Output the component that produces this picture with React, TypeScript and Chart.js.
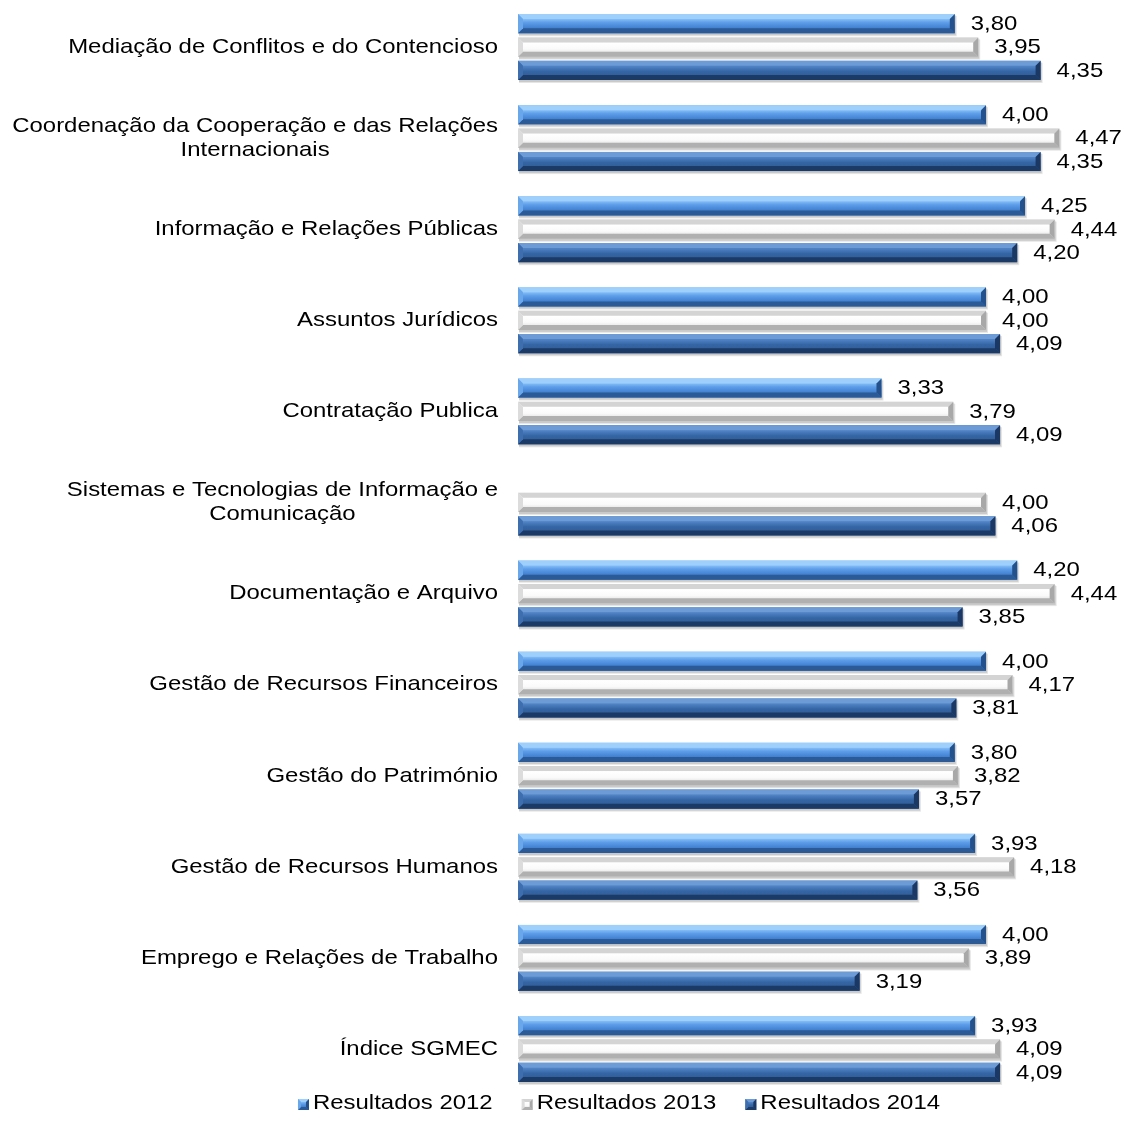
import React, { useEffect, useRef } from 'react';
import { Chart, registerables } from 'chart.js';

Chart.register(...registerables);

// ---------- DATA ----------
const categories: (string | string[])[] = [
  'Mediação de Conflitos e do Contencioso',
  ['Coordenação da Cooperação e das Relações', 'Internacionais'],
  'Informação e Relações Públicas',
  'Assuntos Jurídicos',
  'Contratação Publica',
  ['Sistemas e Tecnologias de Informação e', 'Comunicação'],
  'Documentação e Arquivo',
  'Gestão de Recursos Financeiros',
  'Gestão do Património',
  'Gestão de Recursos Humanos',
  'Emprego e Relações de Trabalho',
  'Índice SGMEC',
];

const resultados2012: (number | null)[] = [3.8, 4.0, 4.25, 4.0, 3.33, null, 4.2, 4.0, 3.8, 3.93, 4.0, 3.93];
const resultados2013: (number | null)[] = [3.95, 4.47, 4.44, 4.0, 3.79, 4.0, 4.44, 4.17, 3.82, 4.18, 3.89, 4.09];
const resultados2014: (number | null)[] = [4.35, 4.35, 4.2, 4.09, 4.09, 4.06, 3.85, 3.81, 3.57, 3.56, 3.19, 4.09];

const seriesLabels = ['Resultados 2012', 'Resultados 2013', 'Resultados 2014'];

const axisMin = 1;
const axisMax = 4.5;

// ---------- STYLE ----------
const FONT_FAMILY = '"Liberation Sans", Arial, Helvetica, sans-serif';
const FONT_SIZE = 21;
const XSTRETCH = 1.14;

type BarStyle = {
  stops: [number, string][];
  top: string;
  bottom: string;
  end: string;
  start: string;
};

const barStyles: BarStyle[] = [
  {
    stops: [[0, '#7db8f2'], [0.25, '#86c0f8'], [0.45, '#5c9ce8'], [0.7, '#4383d2'], [1, '#3673bf']],
    top: '#9fd0fb',
    bottom: '#2b5a96',
    end: '#24518c',
    start: '#6aa6ea',
  },
  {
    stops: [[0, '#e6e6e6'], [0.3, '#ffffff'], [0.6, '#fafafa'], [1, '#d2d2d2']],
    top: '#d4d4d4',
    bottom: '#b0b0b0',
    end: '#a8a8a8',
    start: '#dcdcdc',
  },
  {
    stops: [[0, '#4b7cbd'], [0.3, '#4f82c4'], [0.55, '#3565a4'], [1, '#2c5890']],
    top: '#6d9bd6',
    bottom: '#1c3a66',
    end: '#1b3763',
    start: '#3e6eae',
  },
];

function fmt(v: number): string {
  return v.toFixed(2).replace('.', ',');
}

function textWidth(ctx: CanvasRenderingContext2D, t: string): number {
  return ctx.measureText(t).width * XSTRETCH;
}

function drawText(ctx: CanvasRenderingContext2D, t: string, x: number, y: number, align: 'left' | 'right' | 'center') {
  const w = textWidth(ctx, t);
  const left = align === 'left' ? x : align === 'right' ? x - w : x - w / 2;
  ctx.save();
  ctx.translate(left, y);
  ctx.scale(XSTRETCH, 1);
  ctx.textAlign = 'left';
  ctx.textBaseline = 'middle';
  ctx.fillText(t, 0, 0);
  ctx.restore();
}

function drawBevelBar(ctx: CanvasRenderingContext2D, L: number, T: number, R: number, B: number, s: BarStyle, bevel: number) {
  const h = B - T;
  const b = Math.min(bevel, h / 3, (R - L) / 3);
  const g = ctx.createLinearGradient(0, T, 0, B);
  s.stops.forEach(([o, c]) => g.addColorStop(o, c));
  ctx.fillStyle = g;
  ctx.fillRect(L, T, R - L, h);
  ctx.fillStyle = s.top;
  ctx.beginPath();
  ctx.moveTo(L, T); ctx.lineTo(R, T); ctx.lineTo(R - b, T + b); ctx.lineTo(L + b, T + b); ctx.closePath();
  ctx.fill();
  ctx.fillStyle = s.bottom;
  ctx.beginPath();
  ctx.moveTo(L, B); ctx.lineTo(R, B); ctx.lineTo(R - b, B - b); ctx.lineTo(L + b, B - b); ctx.closePath();
  ctx.fill();
  ctx.fillStyle = s.start;
  ctx.beginPath();
  ctx.moveTo(L, T); ctx.lineTo(L + b, T + b); ctx.lineTo(L + b, B - b); ctx.lineTo(L, B); ctx.closePath();
  ctx.fill();
  ctx.fillStyle = s.end;
  ctx.beginPath();
  ctx.moveTo(R, T); ctx.lineTo(R - b, T + b); ctx.lineTo(R - b, B - b); ctx.lineTo(R, B); ctx.closePath();
  ctx.fill();
}

const paintPlugin = {
  id: 'paintBevel',
  afterDatasetsDraw(chart: any) {
    const ctx: CanvasRenderingContext2D = chart.ctx;
    const area = chart.chartArea;
    const yScale = chart.scales.y;
    const datasets = chart.data.datasets;
    const metas = datasets.map((_: any, i: number) => chart.getDatasetMeta(i));

    ctx.save();
    metas.forEach((meta: any, di: number) => {
      meta.data.forEach((el: any, i: number) => {
        const v = datasets[di].data[i];
        if (v == null) return;
        const p = el.getProps(['x', 'y', 'base', 'height'], true);
        const T = p.y - p.height / 2;
        ctx.fillStyle = 'rgba(0,0,0,0.10)';
        ctx.fillRect(p.base + 1, T + 2, p.x - p.base + 1, p.height + 1);
        ctx.fillStyle = 'rgba(0,0,0,0.12)';
        ctx.fillRect(p.base + 1, T + 1, p.x - p.base, p.height + 1);
      });
    });
    metas.forEach((meta: any, di: number) => {
      meta.data.forEach((el: any, i: number) => {
        const v = datasets[di].data[i];
        if (v == null) return;
        const p = el.getProps(['x', 'y', 'base', 'height'], true);
        drawBevelBar(ctx, p.base, p.y - p.height / 2, p.x, p.y + p.height / 2, barStyles[di], 5);
      });
    });

    ctx.font = `${FONT_SIZE}px ${FONT_FAMILY}`;
    ctx.fillStyle = '#000';
    metas.forEach((meta: any, di: number) => {
      meta.data.forEach((el: any, i: number) => {
        const v = datasets[di].data[i];
        if (v == null) return;
        const p = el.getProps(['x', 'y'], true);
        drawText(ctx, fmt(v), p.x + 16, p.y + 0.5, 'left');
      });
    });

    const lineH = 24;
    chart.data.labels.forEach((lab: string | string[], i: number) => {
      const lines = Array.isArray(lab) ? lab : [lab];
      const yc = yScale.getPixelForValue(i);
      const right = area.left - 20;
      const blockW = Math.max(...lines.map((l) => textWidth(ctx, l)));
      lines.forEach((l, k) => {
        const y = yc + (k - (lines.length - 1) / 2) * lineH;
        if (lines.length === 1) drawText(ctx, l, right, y, 'right');
        else drawText(ctx, l, right - blockW / 2, y, 'center');
      });
    });

    const legendY = area.bottom + 9;
    const marker = 11;
    const gapMarker = 4;
    const gapItem = 29;
    const widths = seriesLabels.map((t) => marker + gapMarker + textWidth(ctx, t));
    const total = widths.reduce((a, b) => a + b, 0) + gapItem * (seriesLabels.length - 1);
    let x = 619 - total / 2;
    seriesLabels.forEach((t, k) => {
      drawBevelBar(ctx, x, legendY - marker / 2 + 1, x + marker, legendY + marker / 2 + 1, barStyles[k], 3);
      ctx.fillStyle = '#000';
      drawText(ctx, t, x + marker + gapMarker, legendY, 'left');
      x += widths[k] + gapItem;
    });
    ctx.restore();
  },
};

export default function App() {
  const ref = useRef<HTMLCanvasElement | null>(null);

  useEffect(() => {
    document.body.style.margin = '0';
    const canvas = ref.current;
    if (!canvas) return;
    const transparent = 'rgba(0,0,0,0)';
    const common = { backgroundColor: transparent, barPercentage: 0.82, categoryPercentage: 0.77, base: axisMin };
    const chart = new Chart(canvas, {
      type: 'bar',
      data: {
        labels: categories as any,
        datasets: [
          { label: seriesLabels[0], data: resultados2012, ...common },
          { label: seriesLabels[1], data: resultados2013, ...common },
          { label: seriesLabels[2], data: resultados2014, ...common },
        ] as any,
      },
      options: {
        indexAxis: 'y',
        responsive: false,
        maintainAspectRatio: false,
        animation: false,
        layout: { padding: { left: 518, right: 59, top: 1.5, bottom: 45.5 } },
        scales: {
          x: { min: axisMin, max: axisMax, display: false, grid: { display: false } },
          y: { display: false, grid: { display: false } },
        },
        plugins: {
          legend: { display: false },
          tooltip: { enabled: false },
        },
      },
      plugins: [paintPlugin],
    });
    return () => chart.destroy();
  }, []);

  return (
    <div style={{ width: 1123, height: 1140, background: '#fff' }}>
      <canvas ref={ref} width={1123} height={1140} style={{ display: 'block', width: 1123, height: 1140 }} />
    </div>
  );
}
